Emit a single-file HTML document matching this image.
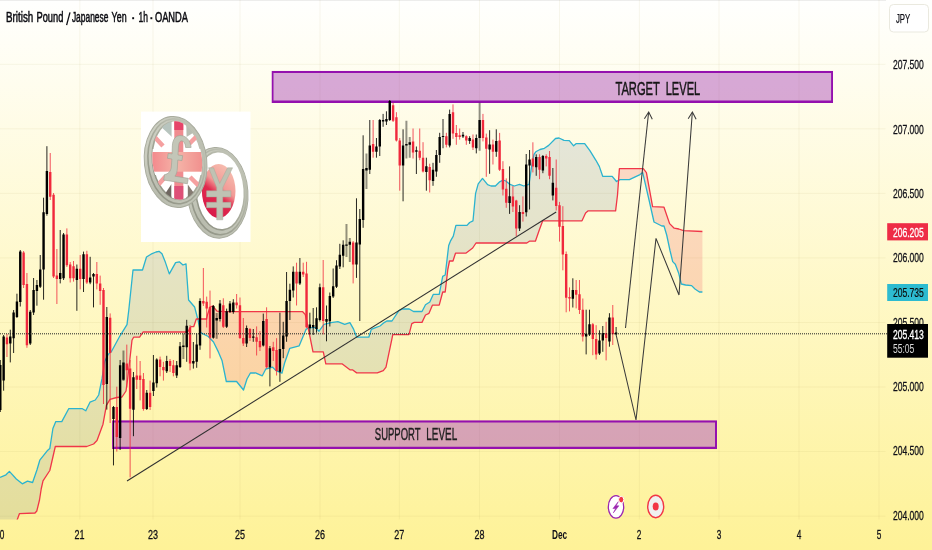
<!DOCTYPE html>
<html><head><meta charset="utf-8"><title>GBPJPY</title>
<style>html,body{margin:0;padding:0;background:#fff;}body{width:932px;height:550px;overflow:hidden;font-family:"Liberation Sans",sans-serif;}</style>
</head><body>
<svg width="932" height="550" viewBox="0 0 932 550" style="display:block;will-change:transform;font-family:'Liberation Sans',sans-serif">
<defs>
<linearGradient id="bg" x1="0" y1="0" x2="0" y2="1"><stop offset="0" stop-color="#FFFFFE"/><stop offset="1" stop-color="#FEF297"/></linearGradient>
<clipPath id="pane"><rect x="0" y="0" width="885.5" height="519.5"/></clipPath>
</defs>
<rect width="932" height="550" fill="url(#bg)"/>
<rect x="0" y="0" width="886" height="1" fill="rgba(0,0,0,0.07)"/>
<path d="M0 64.3H885.5M0 128.8H885.5M0 193.4H885.5M0 257.9H885.5M0 322.5H885.5M0 387.0H885.5M0 451.5H885.5M0 516.1H885.5M79.8 0V519.5M153.0 0V519.5M240.0 0V519.5M320.0 0V519.5M399.3 0V519.5M479.5 0V519.5M559.5 0V519.5M639.4 0V519.5M719.0 0V519.5M799.0 0V519.5M879.0 0V519.5" stroke="rgba(170,160,90,0.095)" stroke-width="1" fill="none"/>
<g clip-path="url(#pane)">
<path d="M0.0 477.4 L0.5 477.2 L1.0 477.0 L1.5 476.8 L2.0 476.5 L2.5 476.3 L3.0 476.1 L3.5 475.9 L4.0 475.7 L4.5 475.4 L5.0 475.2 L5.5 475.0 L6.0 474.8 L6.5 474.3 L7.0 473.8 L7.5 473.3 L8.0 472.8 L8.5 472.3 L9.0 471.8 L9.5 471.5 L10.0 472.1 L10.5 472.6 L11.0 473.2 L11.5 473.7 L12.0 474.3 L12.5 474.8 L13.0 475.4 L13.5 475.9 L14.0 476.5 L14.5 477.0 L15.0 477.6 L15.5 478.1 L16.0 478.7 L16.5 479.2 L17.0 479.6 L17.5 480.0 L18.0 480.4 L18.5 480.8 L19.0 481.2 L19.5 481.6 L20.0 482.0 L20.5 482.4 L21.0 482.8 L21.5 483.2 L22.0 483.6 L22.5 483.7 L23.0 483.4 L23.5 483.2 L24.0 482.9 L24.5 482.7 L25.0 482.4 L25.5 482.2 L26.0 481.9 L26.5 481.7 L27.0 481.4 L27.5 481.2 L28.0 481.3 L28.5 481.5 L29.0 481.6 L29.5 481.7 L30.0 481.8 L30.5 482.0 L31.0 482.1 L31.5 482.2 L32.0 482.3 L32.5 482.5 L33.0 481.3 L33.5 479.9 L34.0 478.4 L34.5 477.0 L35.0 475.5 L35.5 474.1 L36.0 472.6 L36.5 471.2 L37.0 469.7 L37.5 468.0 L38.0 466.3 L38.5 464.6 L39.0 462.9 L39.5 461.2 L40.0 459.9 L40.5 459.3 L41.0 458.7 L41.5 458.0 L42.0 457.4 L42.5 456.8 L43.0 456.1 L43.5 455.5 L44.0 454.9 L44.5 454.2 L45.0 453.6 L45.5 453.0 L46.0 452.3 L46.5 451.7 L47.0 451.1 L47.5 450.5 L48.0 450.1 L48.5 449.7 L49.0 449.3 L49.5 448.9 L50.0 447.3 L50.5 444.1 L51.0 440.8 L51.5 437.6 L52.0 434.3 L52.5 431.1 L53.0 428.3 L53.5 427.1 L54.0 425.9 L54.5 424.7 L55.0 423.5 L55.5 422.3 L56.0 421.6 L56.5 421.6 L57.0 421.6 L57.5 421.6 L58.0 421.6 L58.5 421.6 L59.0 421.6 L59.5 421.6 L60.0 421.6 L60.5 421.6 L61.0 421.6 L61.5 421.6 L62.0 421.2 L62.5 420.3 L63.0 419.4 L63.5 418.4 L64.0 417.5 L64.5 416.6 L65.0 415.6 L65.5 414.7 L66.0 413.7 L66.5 412.8 L67.0 411.9 L67.5 410.9 L68.0 410.0 L68.5 409.1 L69.0 408.7 L69.5 408.7 L70.0 408.7 L70.5 408.7 L71.0 408.7 L71.5 408.7 L72.0 408.7 L72.5 408.7 L73.0 408.7 L73.5 408.7 L74.0 408.7 L74.5 408.7 L75.0 408.7 L75.5 408.7 L76.0 408.7 L76.5 408.7 L77.0 408.7 L77.5 408.7 L78.0 408.7 L78.5 408.7 L79.0 408.7 L79.5 408.7 L80.0 408.7 L80.5 408.7 L81.0 408.7 L81.5 408.7 L82.0 408.7 L82.5 408.8 L83.0 409.1 L83.5 409.4 L84.0 409.7 L84.5 410.0 L85.0 410.3 L85.5 410.6 L86.0 410.4 L86.5 409.4 L87.0 408.3 L87.5 407.3 L88.0 406.3 L88.5 405.3 L89.0 404.2 L89.5 403.2 L90.0 402.2 L90.5 402.0 L91.0 401.8 L91.5 401.6 L92.0 401.4 L92.5 401.2 L93.0 401.0 L93.5 400.7 L94.0 400.5 L94.5 400.3 L95.0 400.1 L95.5 399.7 L96.0 399.0 L96.5 398.2 L97.0 397.5 L97.5 396.8 L98.0 396.0 L98.5 395.3 L99.0 393.5 L99.5 391.0 L100.0 388.6 L100.5 386.1 L101.0 383.6 L101.5 381.2 L102.0 378.7 L102.5 375.5 L103.0 372.3 L103.5 369.1 L104.0 366.0 L104.5 362.8 L105.0 360.9 L105.5 359.8 L106.0 358.8 L106.5 357.7 L107.0 356.7 L107.5 355.6 L108.0 354.6 L108.5 354.1 L109.0 353.7 L109.5 353.2 L110.0 352.7 L110.5 352.2 L111.0 351.8 L111.5 351.3 L112.0 350.5 L112.5 349.5 L113.0 348.6 L113.5 347.7 L114.0 346.8 L114.5 345.9 L115.0 345.0 L115.5 344.1 L116.0 343.1 L116.5 342.2 L117.0 341.3 L117.5 340.4 L118.0 339.5 L118.5 338.6 L119.0 337.6 L119.5 336.7 L120.0 335.8 L120.5 335.0 L121.0 334.2 L121.5 333.4 L122.0 332.6 L122.5 331.8 L123.0 331.0 L123.5 330.2 L124.0 329.4 L124.5 328.6 L125.0 327.8 L125.5 327.0 L126.0 326.2 L126.5 325.4 L127.0 324.6 L127.5 320.5 L128.0 316.5 L128.5 312.4 L129.0 308.1 L129.5 303.3 L130.0 298.6 L130.5 293.8 L131.0 289.0 L131.5 284.3 L132.0 279.5 L132.5 274.8 L133.0 270.0 L133.5 270.0 L134.0 270.0 L134.5 270.0 L135.0 270.0 L135.5 270.0 L136.0 270.0 L136.5 270.0 L137.0 270.0 L137.5 270.0 L138.0 270.0 L138.5 270.0 L139.0 270.0 L139.5 270.0 L140.0 270.0 L140.5 270.0 L141.0 270.0 L141.5 270.0 L142.0 270.0 L142.5 270.0 L143.0 268.4 L143.5 266.8 L144.0 265.1 L144.5 263.5 L145.0 261.9 L145.5 260.2 L146.0 258.6 L146.5 257.0 L147.0 256.7 L147.5 256.4 L148.0 256.1 L148.5 255.8 L149.0 255.4 L149.5 255.1 L150.0 254.8 L150.5 254.5 L151.0 254.2 L151.5 254.0 L152.0 253.8 L152.5 253.5 L153.0 253.3 L153.5 253.1 L154.0 252.9 L154.5 252.7 L155.0 252.4 L155.5 252.2 L156.0 252.0 L156.5 251.9 L157.0 251.8 L157.5 251.7 L158.0 251.5 L158.5 251.4 L159.0 251.3 L159.5 251.7 L160.0 252.1 L160.5 252.6 L161.0 253.0 L161.5 253.4 L162.0 253.8 L162.5 255.1 L163.0 256.3 L163.5 257.6 L164.0 258.8 L164.5 260.1 L165.0 261.3 L165.5 262.6 L166.0 264.1 L166.5 265.6 L167.0 267.1 L167.5 268.5 L168.0 270.0 L168.5 271.5 L169.0 273.0 L169.5 273.5 L170.0 272.6 L170.5 271.7 L171.0 270.9 L171.5 270.0 L172.0 269.1 L172.5 268.2 L173.0 267.3 L173.5 266.4 L174.0 265.5 L174.5 264.6 L175.0 263.7 L175.5 262.8 L176.0 262.5 L176.5 262.4 L177.0 262.3 L177.5 262.2 L178.0 262.1 L178.5 262.0 L179.0 261.9 L179.5 262.0 L180.0 262.4 L180.5 262.8 L181.0 263.3 L181.5 263.7 L182.0 264.1 L182.5 264.6 L183.0 265.0 L183.5 264.8 L184.0 264.6 L184.5 264.4 L185.0 264.2 L185.5 264.0 L186.0 263.8 L186.5 270.8 L187.0 277.7 L187.5 284.7 L188.0 291.6 L188.5 298.6 L189.0 300.5 L189.5 301.1 L190.0 301.6 L190.5 302.2 L191.0 302.8 L191.5 303.4 L192.0 304.0 L192.5 304.6 L193.0 305.1 L193.5 305.7 L194.0 306.3 L194.5 306.9 L195.0 308.5 L195.5 310.4 L196.0 312.3 L196.5 314.2 L197.0 316.0 L197.5 317.9 L198.0 319.8 L198.0 319.0 L197.5 319.0 L197.0 319.0 L196.5 319.0 L196.0 319.9 L195.5 321.4 L195.0 322.9 L194.5 324.3 L194.0 325.8 L193.5 326.7 L193.0 326.7 L192.5 326.7 L192.0 326.7 L191.5 326.7 L191.0 326.7 L190.5 327.5 L190.0 328.3 L189.5 329.1 L189.0 329.9 L188.5 330.7 L188.0 331.5 L187.5 332.0 L187.0 332.0 L186.5 332.0 L186.0 332.0 L185.5 332.0 L185.0 332.0 L184.5 332.0 L184.0 332.0 L183.5 332.0 L183.0 332.0 L182.5 332.0 L182.0 332.0 L181.5 332.0 L181.0 332.0 L180.5 332.0 L180.0 332.0 L179.5 332.0 L179.0 332.0 L178.5 332.0 L178.0 332.0 L177.5 332.0 L177.0 332.0 L176.5 332.0 L176.0 332.0 L175.5 332.0 L175.0 332.0 L174.5 332.0 L174.0 332.0 L173.5 332.0 L173.0 332.0 L172.5 332.0 L172.0 332.0 L171.5 332.0 L171.0 332.0 L170.5 332.0 L170.0 332.0 L169.5 332.0 L169.0 332.0 L168.5 332.0 L168.0 332.0 L167.5 332.0 L167.0 332.0 L166.5 332.0 L166.0 332.0 L165.5 332.0 L165.0 332.0 L164.5 332.0 L164.0 332.0 L163.5 332.0 L163.0 332.0 L162.5 332.0 L162.0 332.0 L161.5 332.0 L161.0 332.0 L160.5 332.0 L160.0 332.0 L159.5 332.0 L159.0 332.0 L158.5 332.0 L158.0 332.0 L157.5 332.0 L157.0 332.0 L156.5 332.0 L156.0 332.0 L155.5 332.0 L155.0 332.0 L154.5 332.0 L154.0 332.0 L153.5 332.0 L153.0 332.0 L152.5 332.0 L152.0 332.0 L151.5 332.0 L151.0 332.0 L150.5 332.0 L150.0 332.0 L149.5 332.0 L149.0 332.0 L148.5 332.0 L148.0 332.0 L147.5 332.0 L147.0 332.0 L146.5 332.0 L146.0 332.0 L145.5 332.0 L145.0 332.0 L144.5 332.0 L144.0 332.0 L143.5 332.0 L143.0 332.0 L142.5 332.8 L142.0 333.5 L141.5 334.3 L141.0 335.1 L140.5 335.8 L140.0 336.6 L139.5 337.2 L139.0 337.2 L138.5 337.2 L138.0 337.2 L137.5 337.2 L137.0 337.2 L136.5 337.2 L136.0 337.2 L135.5 337.2 L135.0 337.2 L134.5 337.2 L134.0 337.2 L133.5 337.4 L133.0 338.4 L132.5 339.3 L132.0 340.3 L131.5 344.7 L131.0 349.2 L130.5 353.6 L130.0 358.1 L129.5 362.5 L129.0 366.9 L128.5 371.3 L128.0 375.6 L127.5 380.0 L127.0 383.7 L126.5 387.3 L126.0 391.0 L125.5 391.8 L125.0 392.5 L124.5 393.2 L124.0 394.0 L123.5 394.8 L123.0 395.5 L122.5 396.2 L122.0 397.0 L121.5 397.0 L121.0 397.1 L120.5 397.1 L120.0 397.2 L119.5 397.2 L119.0 397.3 L118.5 397.3 L118.0 397.4 L117.5 397.4 L117.0 397.5 L116.5 397.6 L116.0 397.7 L115.5 397.8 L115.0 398.0 L114.5 398.1 L114.0 398.2 L113.5 398.4 L113.0 398.5 L112.5 398.6 L112.0 398.8 L111.5 398.9 L111.0 399.0 L110.5 399.2 L110.0 399.3 L109.5 400.1 L109.0 401.0 L108.5 401.8 L108.0 402.6 L107.5 403.5 L107.0 404.3 L106.5 405.1 L106.0 407.5 L105.5 410.3 L105.0 413.1 L104.5 415.9 L104.0 418.6 L103.5 421.4 L103.0 424.2 L102.5 425.6 L102.0 426.9 L101.5 428.3 L101.0 429.6 L100.5 431.0 L100.0 432.4 L99.5 433.7 L99.0 435.1 L98.5 436.4 L98.0 437.8 L97.5 439.1 L97.0 440.5 L96.5 441.0 L96.0 441.5 L95.5 442.0 L95.0 442.6 L94.5 443.1 L94.0 443.6 L93.5 444.0 L93.0 444.2 L92.5 444.4 L92.0 444.6 L91.5 444.8 L91.0 444.9 L90.5 445.1 L90.0 445.3 L89.5 445.5 L89.0 445.7 L88.5 445.8 L88.0 446.0 L87.5 446.2 L87.0 446.4 L86.5 446.5 L86.0 446.5 L85.5 446.5 L85.0 446.5 L84.5 446.5 L84.0 446.5 L83.5 446.5 L83.0 446.5 L82.5 446.5 L82.0 446.5 L81.5 446.5 L81.0 446.5 L80.5 446.5 L80.0 446.5 L79.5 446.5 L79.0 446.5 L78.5 446.5 L78.0 446.5 L77.5 446.5 L77.0 446.5 L76.5 446.5 L76.0 446.5 L75.5 446.5 L75.0 446.5 L74.5 446.5 L74.0 446.5 L73.5 446.5 L73.0 446.5 L72.5 446.5 L72.0 446.5 L71.5 446.5 L71.0 446.5 L70.5 446.5 L70.0 446.5 L69.5 446.5 L69.0 446.5 L68.5 446.5 L68.0 446.5 L67.5 446.5 L67.0 446.5 L66.5 446.5 L66.0 446.5 L65.5 446.5 L65.0 446.5 L64.5 446.5 L64.0 446.5 L63.5 446.5 L63.0 446.5 L62.5 446.5 L62.0 446.5 L61.5 446.5 L61.0 446.5 L60.5 446.5 L60.0 446.5 L59.5 446.5 L59.0 446.5 L58.5 446.5 L58.0 446.5 L57.5 446.5 L57.0 446.5 L56.5 446.5 L56.0 446.5 L55.5 446.5 L55.0 447.8 L54.5 450.0 L54.0 452.2 L53.5 454.4 L53.0 456.5 L52.5 458.7 L52.0 460.9 L51.5 463.1 L51.0 465.3 L50.5 467.4 L50.0 469.6 L49.5 471.0 L49.0 471.7 L48.5 472.5 L48.0 473.2 L47.5 474.0 L47.0 474.7 L46.5 475.5 L46.0 476.3 L45.5 477.0 L45.0 477.8 L44.5 478.5 L44.0 479.3 L43.5 480.0 L43.0 480.8 L42.5 483.1 L42.0 485.4 L41.5 487.6 L41.0 490.3 L40.5 493.5 L40.0 496.8 L39.5 500.0 L39.0 502.0 L38.5 504.1 L38.0 506.1 L37.5 508.1 L37.0 510.2 L36.5 511.3 L36.0 511.9 L35.5 512.4 L35.0 513.0 L34.5 513.0 L34.0 513.0 L33.5 513.1 L33.0 513.1 L32.5 513.1 L32.0 513.1 L31.5 513.1 L31.0 513.2 L30.5 513.2 L30.0 513.2 L29.5 513.2 L29.0 513.2 L28.5 513.3 L28.0 513.3 L27.5 513.3 L27.0 513.3 L26.5 513.3 L26.0 513.3 L25.5 513.4 L25.0 513.4 L24.5 513.4 L24.0 513.4 L23.5 513.4 L23.0 513.5 L22.5 513.5 L22.0 513.5 L21.5 513.5 L21.0 513.5 L20.5 513.6 L20.0 513.6 L19.5 513.6 L19.0 514.9 L18.5 516.3 L18.0 517.6 L17.5 519.0 L17.0 520.5 L16.5 522.0 L16.0 523.6 L15.5 525.2 L15.0 526.8 L14.5 528.4 L14.0 530.0 L13.5 530.5 L13.0 531.1 L12.5 531.6 L12.0 532.1 L11.5 532.7 L11.0 533.2 L10.5 533.8 L10.0 534.3 L9.5 534.8 L9.0 535.4 L8.5 535.9 L8.0 536.4 L7.5 537.0 L7.0 537.5 L6.5 538.0 L6.0 538.6 L5.5 539.1 L5.0 539.6 L4.5 540.2 L4.0 540.7 L3.5 541.2 L3.0 541.8 L2.5 542.3 L2.0 542.9 L1.5 543.4 L1.0 543.9 L0.5 544.5 L0.0 545.0Z" fill="rgba(70,100,150,0.14)" stroke="none"/>
<path d="M198.0 319.8 L198.5 322.3 L199.0 324.8 L199.5 327.2 L200.0 329.7 L200.5 332.2 L201.0 332.9 L201.5 333.1 L202.0 333.4 L202.5 333.6 L203.0 333.9 L203.5 334.1 L204.0 334.4 L204.5 334.6 L205.0 334.9 L205.5 335.1 L206.0 335.4 L206.5 335.6 L207.0 335.9 L207.5 336.1 L208.0 336.4 L208.5 336.7 L209.0 337.2 L209.5 337.8 L210.0 338.3 L210.5 338.8 L211.0 339.4 L211.5 339.9 L212.0 340.4 L212.5 340.9 L213.0 341.5 L213.5 342.0 L214.0 343.0 L214.5 344.0 L215.0 345.1 L215.5 346.1 L216.0 347.1 L216.5 348.1 L217.0 349.1 L217.5 350.2 L218.0 351.2 L218.5 352.2 L219.0 353.3 L219.5 354.5 L220.0 355.7 L220.5 356.9 L221.0 358.0 L221.5 359.2 L222.0 360.4 L222.5 362.9 L223.0 365.3 L223.5 367.8 L224.0 370.2 L224.5 372.7 L225.0 375.1 L225.5 377.6 L226.0 380.0 L226.5 381.5 L227.0 381.5 L227.5 381.5 L228.0 381.5 L228.5 381.5 L229.0 381.5 L229.5 381.5 L230.0 381.5 L230.5 381.5 L231.0 381.5 L231.5 381.5 L232.0 381.5 L232.5 381.5 L233.0 381.5 L233.5 381.5 L234.0 381.5 L234.5 381.5 L235.0 381.5 L235.5 381.5 L236.0 381.5 L236.5 381.5 L237.0 382.0 L237.5 382.6 L238.0 383.2 L238.5 383.8 L239.0 384.5 L239.5 385.1 L240.0 385.7 L240.5 386.3 L241.0 386.9 L241.5 387.5 L242.0 388.2 L242.5 388.8 L243.0 389.4 L243.5 390.0 L244.0 388.4 L244.5 386.9 L245.0 385.3 L245.5 383.7 L246.0 382.1 L246.5 380.6 L247.0 379.0 L247.5 378.1 L248.0 377.2 L248.5 376.4 L249.0 375.5 L249.5 374.6 L250.0 373.7 L250.5 373.0 L251.0 373.0 L251.5 373.0 L252.0 373.0 L252.5 373.0 L253.0 372.9 L253.5 372.9 L254.0 372.9 L254.5 372.9 L255.0 372.9 L255.5 372.9 L256.0 373.1 L256.5 373.3 L257.0 373.5 L257.5 373.8 L258.0 374.0 L258.5 374.2 L259.0 374.4 L259.5 374.6 L260.0 374.8 L260.5 375.0 L261.0 375.2 L261.5 375.5 L262.0 375.7 L262.5 375.4 L263.0 374.4 L263.5 373.5 L264.0 372.5 L264.5 371.5 L265.0 370.6 L265.5 369.6 L266.0 368.9 L266.5 368.8 L267.0 368.7 L267.5 368.6 L268.0 368.4 L268.5 368.3 L269.0 368.2 L269.5 368.0 L270.0 367.9 L270.5 367.8 L271.0 367.6 L271.5 367.5 L272.0 367.4 L272.5 367.2 L273.0 367.6 L273.5 368.1 L274.0 368.6 L274.5 369.1 L275.0 369.6 L275.5 370.1 L276.0 370.6 L276.5 370.8 L277.0 371.0 L277.5 371.2 L278.0 371.5 L278.5 371.7 L279.0 371.9 L279.5 372.1 L280.0 372.3 L280.5 372.6 L281.0 372.8 L281.5 373.0 L282.0 373.2 L282.5 371.2 L283.0 369.3 L283.5 367.3 L284.0 365.4 L284.5 363.4 L285.0 361.9 L285.5 360.5 L286.0 359.0 L286.5 357.6 L287.0 356.2 L287.5 354.8 L288.0 353.4 L288.5 352.0 L289.0 350.6 L289.5 349.1 L290.0 348.2 L290.5 348.1 L291.0 348.0 L291.5 347.8 L292.0 347.7 L292.5 347.6 L293.0 347.4 L293.5 347.3 L294.0 347.2 L294.5 347.1 L295.0 346.9 L295.5 346.8 L296.0 346.7 L296.5 346.5 L297.0 346.4 L297.5 346.3 L298.0 346.1 L298.5 346.0 L299.0 345.9 L299.5 345.1 L300.0 343.9 L300.5 342.7 L301.0 341.5 L301.5 340.3 L302.0 339.0 L302.5 337.8 L303.0 336.6 L303.5 335.4 L304.0 334.2 L304.5 333.0 L305.0 331.8 L305.5 330.6 L306.0 329.4 L306.5 329.1 L307.0 328.8 L307.5 328.5 L308.0 328.1 L308.5 327.8 L308.5 329.5 L308.0 327.0 L307.5 324.7 L307.0 322.4 L306.5 320.1 L306.0 317.8 L305.5 315.5 L305.0 314.3 L304.5 313.7 L304.0 313.1 L303.5 312.6 L303.0 312.0 L302.5 311.7 L302.0 311.7 L301.5 311.7 L301.0 311.7 L300.5 311.7 L300.0 311.7 L299.5 311.7 L299.0 311.7 L298.5 311.7 L298.0 311.7 L297.5 311.7 L297.0 311.7 L296.5 311.7 L296.0 311.7 L295.5 311.7 L295.0 311.7 L294.5 311.7 L294.0 311.7 L293.5 311.7 L293.0 311.7 L292.5 311.7 L292.0 311.7 L291.5 311.7 L291.0 311.7 L290.5 311.7 L290.0 311.7 L289.5 311.7 L289.0 311.7 L288.5 311.7 L288.0 311.7 L287.5 311.7 L287.0 311.7 L286.5 311.7 L286.0 311.7 L285.5 311.7 L285.0 311.7 L284.5 311.7 L284.0 311.7 L283.5 311.7 L283.0 311.7 L282.5 311.7 L282.0 311.7 L281.5 311.7 L281.0 311.7 L280.5 311.7 L280.0 311.7 L279.5 311.7 L279.0 311.7 L278.5 311.7 L278.0 311.7 L277.5 311.7 L277.0 311.7 L276.5 311.7 L276.0 311.7 L275.5 311.7 L275.0 311.7 L274.5 311.7 L274.0 311.7 L273.5 311.7 L273.0 311.7 L272.5 311.7 L272.0 311.7 L271.5 311.7 L271.0 311.7 L270.5 311.7 L270.0 311.7 L269.5 311.7 L269.0 311.7 L268.5 311.7 L268.0 311.7 L267.5 311.7 L267.0 311.7 L266.5 311.7 L266.0 311.7 L265.5 311.7 L265.0 311.7 L264.5 311.7 L264.0 311.7 L263.5 311.7 L263.0 311.7 L262.5 311.7 L262.0 311.7 L261.5 311.7 L261.0 311.7 L260.5 311.7 L260.0 311.7 L259.5 311.7 L259.0 311.7 L258.5 311.7 L258.0 311.7 L257.5 311.7 L257.0 311.7 L256.5 311.7 L256.0 311.7 L255.5 311.7 L255.0 311.7 L254.5 311.7 L254.0 311.7 L253.5 311.7 L253.0 311.7 L252.5 311.7 L252.0 311.7 L251.5 311.7 L251.0 311.7 L250.5 311.7 L250.0 311.7 L249.5 311.7 L249.0 311.7 L248.5 311.7 L248.0 311.7 L247.5 311.7 L247.0 311.7 L246.5 311.7 L246.0 311.7 L245.5 311.7 L245.0 311.7 L244.5 311.7 L244.0 311.7 L243.5 311.7 L243.0 311.7 L242.5 311.7 L242.0 311.7 L241.5 311.7 L241.0 311.7 L240.5 311.7 L240.0 311.7 L239.5 311.7 L239.0 311.7 L238.5 311.7 L238.0 311.7 L237.5 311.7 L237.0 311.7 L236.5 311.7 L236.0 311.7 L235.5 311.7 L235.0 311.7 L234.5 311.7 L234.0 311.7 L233.5 311.7 L233.0 311.7 L232.5 311.7 L232.0 311.7 L231.5 311.7 L231.0 311.7 L230.5 311.7 L230.0 311.7 L229.5 311.7 L229.0 311.7 L228.5 311.7 L228.0 311.7 L227.5 311.7 L227.0 311.7 L226.5 311.7 L226.0 311.7 L225.5 311.7 L225.0 311.7 L224.5 311.7 L224.0 311.7 L223.5 311.6 L223.0 311.6 L222.5 311.6 L222.0 311.5 L221.5 311.5 L221.0 311.5 L220.5 311.4 L220.0 311.4 L219.5 311.4 L219.0 311.3 L218.5 311.3 L218.0 311.3 L217.5 311.2 L217.0 311.2 L216.5 310.6 L216.0 310.0 L215.5 309.4 L215.0 308.8 L214.5 308.2 L214.0 307.7 L213.5 307.1 L213.0 306.5 L212.5 306.0 L212.0 306.2 L211.5 306.4 L211.0 306.6 L210.5 306.8 L210.0 307.0 L209.5 308.5 L209.0 310.0 L208.5 311.6 L208.0 313.1 L207.5 314.6 L207.0 317.0 L206.5 319.0 L206.0 319.0 L205.5 319.0 L205.0 319.0 L204.5 319.0 L204.0 319.0 L203.5 319.0 L203.0 319.0 L202.5 319.0 L202.0 319.0 L201.5 319.0 L201.0 319.0 L200.5 319.0 L200.0 319.0 L199.5 319.0 L199.0 319.0 L198.5 319.0 L198.0 319.0Z" fill="rgba(240,70,85,0.19)" stroke="none"/>
<path d="M308.5 327.8 L309.0 327.7 L309.5 327.7 L310.0 327.7 L310.5 327.7 L311.0 327.7 L311.5 327.7 L312.0 327.7 L312.5 327.7 L313.0 327.7 L313.5 327.7 L314.0 327.7 L314.5 327.7 L315.0 327.7 L315.5 327.7 L316.0 328.2 L316.5 328.7 L317.0 329.2 L317.5 329.7 L318.0 330.2 L318.5 330.7 L319.0 331.2 L319.5 330.5 L320.0 329.8 L320.5 329.1 L321.0 328.4 L321.5 327.8 L322.0 327.1 L322.5 326.4 L323.0 325.7 L323.5 325.0 L324.0 324.3 L324.5 324.2 L325.0 324.1 L325.5 323.9 L326.0 323.8 L326.5 323.7 L327.0 323.6 L327.5 323.5 L328.0 323.3 L328.5 323.2 L329.0 323.1 L329.5 323.0 L330.0 322.8 L330.5 322.7 L331.0 322.6 L331.5 322.5 L332.0 322.5 L332.5 322.4 L333.0 322.3 L333.5 322.3 L334.0 322.2 L334.5 322.1 L335.0 322.1 L335.5 322.0 L336.0 321.9 L336.5 321.9 L337.0 321.8 L337.5 321.8 L338.0 321.7 L338.5 321.9 L339.0 322.1 L339.5 322.3 L340.0 322.5 L340.5 322.7 L341.0 322.9 L341.5 323.1 L342.0 323.3 L342.5 323.5 L343.0 323.7 L343.5 323.8 L344.0 324.0 L344.5 324.2 L345.0 324.2 L345.5 324.0 L346.0 323.9 L346.5 323.7 L347.0 323.5 L347.5 323.4 L348.0 323.2 L348.5 323.1 L349.0 322.9 L349.5 322.7 L350.0 322.8 L350.5 323.7 L351.0 324.5 L351.5 325.4 L352.0 326.3 L352.5 327.2 L353.0 328.1 L353.5 329.1 L354.0 330.4 L354.5 331.6 L355.0 332.9 L355.5 334.2 L356.0 335.4 L356.5 336.7 L357.0 337.2 L357.5 337.2 L358.0 337.2 L358.5 337.2 L359.0 337.2 L359.5 337.2 L360.0 337.2 L360.5 337.2 L361.0 337.2 L361.5 337.2 L362.0 337.2 L362.5 337.2 L363.0 337.2 L363.5 337.2 L364.0 337.2 L364.5 337.2 L365.0 337.2 L365.5 337.2 L366.0 337.2 L366.5 337.2 L367.0 337.2 L367.5 337.2 L368.0 337.2 L368.5 337.2 L369.0 336.6 L369.5 335.0 L370.0 333.5 L370.5 331.9 L371.0 330.3 L371.5 329.3 L372.0 329.1 L372.5 328.9 L373.0 328.7 L373.5 328.5 L374.0 328.3 L374.5 328.1 L375.0 327.9 L375.5 327.7 L376.0 327.5 L376.5 327.4 L377.0 327.2 L377.5 327.0 L378.0 326.8 L378.5 326.6 L379.0 326.4 L379.5 326.2 L380.0 326.0 L380.5 325.6 L381.0 325.2 L381.5 324.8 L382.0 324.4 L382.5 324.0 L383.0 323.6 L383.5 323.2 L384.0 322.8 L384.5 322.4 L385.0 322.1 L385.5 321.8 L386.0 321.5 L386.5 321.2 L387.0 321.0 L387.5 321.0 L388.0 321.0 L388.5 321.0 L389.0 321.0 L389.5 321.0 L390.0 321.0 L390.5 321.0 L391.0 321.0 L391.5 321.0 L392.0 321.0 L392.5 320.3 L393.0 319.5 L393.5 318.8 L394.0 318.0 L394.5 317.3 L395.0 316.5 L395.5 315.8 L396.0 315.0 L396.5 314.3 L397.0 313.5 L397.5 312.8 L398.0 312.0 L398.5 311.3 L399.0 310.6 L399.5 310.4 L400.0 310.1 L400.5 309.9 L401.0 309.6 L401.5 309.4 L402.0 309.1 L402.5 309.0 L403.0 309.0 L403.5 309.0 L404.0 309.0 L404.5 309.0 L405.0 309.0 L405.5 309.0 L406.0 309.0 L406.5 309.0 L407.0 309.0 L407.5 309.0 L408.0 309.0 L408.5 309.0 L409.0 309.0 L409.5 309.2 L410.0 309.5 L410.5 309.8 L411.0 310.0 L411.5 310.3 L412.0 310.6 L412.5 310.9 L413.0 311.2 L413.5 311.5 L414.0 311.5 L414.5 311.5 L415.0 311.5 L415.5 311.5 L416.0 311.5 L416.5 311.5 L417.0 311.5 L417.5 311.5 L418.0 311.5 L418.5 311.5 L419.0 311.5 L419.5 311.5 L420.0 311.5 L420.5 311.5 L421.0 311.5 L421.5 311.5 L422.0 311.5 L422.5 310.5 L423.0 309.6 L423.5 308.6 L424.0 307.6 L424.5 306.6 L425.0 305.7 L425.5 304.7 L426.0 304.4 L426.5 304.1 L427.0 303.8 L427.5 303.4 L428.0 303.1 L428.5 302.8 L429.0 302.5 L429.5 302.2 L430.0 301.6 L430.5 300.4 L431.0 299.3 L431.5 298.2 L432.0 297.1 L432.5 296.0 L433.0 294.8 L433.5 294.4 L434.0 294.4 L434.5 294.4 L435.0 294.4 L435.5 294.4 L436.0 294.4 L436.5 294.4 L437.0 294.4 L437.5 294.4 L438.0 294.4 L438.5 294.4 L439.0 294.4 L439.5 292.9 L440.0 290.3 L440.5 287.7 L441.0 285.1 L441.5 282.6 L442.0 280.0 L442.5 277.4 L443.0 276.2 L443.5 276.0 L444.0 275.7 L444.5 275.4 L445.0 275.1 L445.5 272.5 L446.0 268.3 L446.5 264.0 L447.0 259.8 L447.5 255.6 L448.0 251.4 L448.5 247.2 L449.0 244.7 L449.5 243.5 L450.0 242.2 L450.5 241.0 L451.0 240.2 L451.5 239.3 L452.0 238.4 L452.5 237.6 L453.0 236.7 L453.5 235.4 L454.0 233.3 L454.5 231.2 L455.0 229.1 L455.5 227.1 L456.0 225.4 L456.5 225.4 L457.0 225.4 L457.5 225.4 L458.0 225.4 L458.5 225.4 L459.0 225.4 L459.5 225.4 L460.0 225.4 L460.5 225.4 L461.0 225.4 L461.5 225.4 L462.0 225.4 L462.5 225.4 L463.0 225.4 L463.5 225.4 L464.0 225.4 L464.5 225.4 L465.0 225.4 L465.5 225.4 L466.0 225.4 L466.5 225.4 L467.0 225.4 L467.5 224.8 L468.0 224.3 L468.5 223.7 L469.0 223.2 L469.5 222.6 L470.0 222.3 L470.5 222.1 L471.0 221.8 L471.5 221.6 L472.0 221.3 L472.5 221.1 L473.0 220.8 L473.5 215.5 L474.0 210.2 L474.5 204.9 L475.0 199.6 L475.5 194.4 L476.0 191.9 L476.5 190.0 L477.0 188.2 L477.5 186.4 L478.0 184.6 L478.5 183.5 L479.0 182.9 L479.5 182.2 L480.0 181.6 L480.5 181.0 L481.0 180.3 L481.5 179.7 L482.0 179.0 L482.5 178.4 L483.0 179.0 L483.5 179.6 L484.0 180.3 L484.5 180.9 L485.0 181.5 L485.5 182.1 L486.0 182.7 L486.5 183.3 L487.0 184.0 L487.5 184.6 L488.0 184.9 L488.5 185.0 L489.0 185.2 L489.5 185.4 L490.0 185.6 L490.5 185.8 L491.0 186.0 L491.5 186.0 L492.0 186.0 L492.5 186.0 L493.0 186.0 L493.5 186.0 L494.0 186.0 L494.5 186.0 L495.0 186.0 L495.5 185.9 L496.0 185.4 L496.5 184.9 L497.0 184.4 L497.5 183.9 L498.0 183.5 L498.5 183.0 L499.0 182.5 L499.5 182.0 L500.0 181.6 L500.5 181.4 L501.0 181.1 L501.5 180.9 L502.0 180.6 L502.5 180.4 L503.0 180.1 L503.5 180.1 L504.0 180.3 L504.5 180.5 L505.0 180.7 L505.5 180.9 L506.0 181.2 L506.5 181.6 L507.0 182.0 L507.5 182.4 L508.0 182.8 L508.5 183.2 L509.0 183.6 L509.5 184.0 L510.0 184.4 L510.5 184.6 L511.0 184.8 L511.5 185.0 L512.0 185.1 L512.5 185.3 L513.0 185.5 L513.5 185.7 L514.0 185.9 L514.5 185.9 L515.0 185.8 L515.5 185.6 L516.0 185.5 L516.5 185.3 L517.0 185.2 L517.5 185.0 L518.0 184.9 L518.5 184.7 L519.0 184.6 L519.5 184.4 L520.0 184.6 L520.5 184.8 L521.0 185.0 L521.5 185.1 L522.0 185.3 L522.5 185.5 L523.0 185.7 L523.5 185.9 L524.0 185.9 L524.5 185.8 L525.0 185.6 L525.5 185.5 L526.0 185.3 L526.5 185.2 L527.0 185.0 L527.5 184.9 L528.0 184.7 L528.5 184.6 L529.0 184.4 L529.5 181.0 L530.0 177.5 L530.5 174.1 L531.0 170.6 L531.5 167.2 L532.0 164.6 L532.5 162.0 L533.0 159.5 L533.5 156.9 L534.0 154.3 L534.5 153.6 L535.0 152.9 L535.5 152.2 L536.0 151.7 L536.5 151.4 L537.0 151.1 L537.5 150.9 L538.0 150.6 L538.5 150.3 L539.0 150.0 L539.5 149.8 L540.0 149.5 L540.5 149.4 L541.0 149.2 L541.5 149.1 L542.0 149.0 L542.5 148.8 L543.0 148.7 L543.5 148.5 L544.0 148.4 L544.5 148.2 L545.0 147.9 L545.5 147.6 L546.0 147.2 L546.5 146.9 L547.0 146.5 L547.5 146.2 L548.0 145.9 L548.5 145.5 L549.0 145.1 L549.5 144.6 L550.0 144.1 L550.5 143.6 L551.0 143.1 L551.5 142.6 L552.0 142.1 L552.5 141.5 L553.0 141.0 L553.5 140.5 L554.0 140.0 L554.5 139.5 L555.0 139.0 L555.5 138.5 L556.0 138.4 L556.5 138.4 L557.0 138.3 L557.5 138.2 L558.0 138.1 L558.5 138.1 L559.0 138.0 L559.5 138.2 L560.0 138.5 L560.5 138.7 L561.0 138.9 L561.5 139.2 L562.0 139.4 L562.5 139.6 L563.0 139.8 L563.5 140.1 L564.0 140.3 L564.5 140.3 L565.0 140.4 L565.5 140.4 L566.0 140.4 L566.5 140.4 L567.0 140.5 L567.5 140.5 L568.0 140.5 L568.5 140.6 L569.0 140.6 L569.5 140.8 L570.0 141.4 L570.5 142.1 L571.0 142.7 L571.5 143.3 L572.0 143.9 L572.5 144.5 L573.0 145.1 L573.5 145.7 L574.0 145.5 L574.5 145.0 L575.0 144.6 L575.5 144.1 L576.0 143.7 L576.5 143.7 L577.0 143.7 L577.5 143.7 L578.0 143.7 L578.5 143.7 L579.0 143.7 L579.5 143.7 L580.0 143.7 L580.5 143.7 L581.0 143.7 L581.5 143.7 L582.0 143.7 L582.5 143.7 L583.0 143.7 L583.5 143.7 L584.0 143.7 L584.5 143.7 L585.0 144.1 L585.5 144.8 L586.0 145.4 L586.5 146.1 L587.0 146.8 L587.5 147.4 L588.0 148.1 L588.5 148.7 L589.0 149.4 L589.5 150.1 L590.0 150.8 L590.5 151.6 L591.0 152.4 L591.5 153.2 L592.0 154.0 L592.5 154.8 L593.0 155.6 L593.5 156.4 L594.0 157.2 L594.5 158.0 L595.0 158.8 L595.5 159.7 L596.0 160.5 L596.5 161.4 L597.0 162.3 L597.5 163.2 L598.0 164.1 L598.5 165.0 L599.0 165.9 L599.5 167.0 L600.0 168.4 L600.5 169.9 L601.0 171.4 L601.5 172.8 L602.0 174.3 L602.5 175.7 L603.0 176.3 L603.5 176.3 L604.0 176.3 L604.5 176.3 L605.0 176.3 L605.5 176.3 L606.0 176.3 L606.5 176.3 L607.0 176.3 L607.5 176.3 L608.0 176.3 L608.5 176.3 L609.0 176.3 L609.5 176.3 L610.0 176.3 L610.5 176.3 L611.0 176.3 L611.5 176.3 L612.0 176.3 L612.5 176.7 L613.0 177.3 L613.5 177.9 L614.0 178.5 L614.5 179.1 L615.0 179.7 L615.5 180.3 L616.0 180.9 L616.5 181.5 L617.0 181.2 L617.5 181.0 L618.0 180.7 L618.5 180.4 L619.0 180.1 L619.0 174.2 L618.5 181.1 L618.0 188.1 L617.5 195.0 L617.0 199.2 L616.5 203.3 L616.0 207.5 L615.5 210.8 L615.0 210.8 L614.5 210.8 L614.0 210.8 L613.5 210.8 L613.0 210.8 L612.5 210.8 L612.0 210.8 L611.5 210.8 L611.0 210.8 L610.5 210.8 L610.0 210.8 L609.5 210.8 L609.0 210.8 L608.5 210.8 L608.0 210.8 L607.5 210.8 L607.0 210.8 L606.5 210.8 L606.0 210.8 L605.5 210.8 L605.0 210.8 L604.5 210.8 L604.0 210.8 L603.5 210.8 L603.0 210.8 L602.5 210.8 L602.0 210.8 L601.5 210.8 L601.0 210.8 L600.5 210.8 L600.0 210.8 L599.5 210.8 L599.0 210.8 L598.5 210.8 L598.0 210.8 L597.5 210.8 L597.0 210.8 L596.5 210.8 L596.0 210.8 L595.5 210.8 L595.0 210.8 L594.5 210.8 L594.0 210.8 L593.5 210.8 L593.0 210.8 L592.5 210.8 L592.0 210.8 L591.5 210.8 L591.0 210.8 L590.5 210.8 L590.0 210.8 L589.5 210.8 L589.0 210.8 L588.5 210.8 L588.0 211.0 L587.5 211.4 L587.0 211.8 L586.5 212.2 L586.0 212.7 L585.5 213.2 L585.0 214.3 L584.5 215.4 L584.0 216.5 L583.5 217.6 L583.0 218.6 L582.5 219.7 L582.0 220.8 L581.5 220.8 L581.0 220.8 L580.5 220.8 L580.0 220.8 L579.5 220.8 L579.0 220.8 L578.5 220.8 L578.0 220.8 L577.5 220.8 L577.0 220.8 L576.5 220.8 L576.0 220.8 L575.5 220.8 L575.0 220.8 L574.5 220.8 L574.0 220.8 L573.5 220.8 L573.0 220.8 L572.5 220.8 L572.0 220.8 L571.5 220.8 L571.0 220.8 L570.5 220.8 L570.0 220.8 L569.5 220.8 L569.0 220.8 L568.5 220.8 L568.0 220.8 L567.5 220.8 L567.0 220.8 L566.5 220.8 L566.0 220.8 L565.5 220.8 L565.0 220.8 L564.5 220.8 L564.0 220.8 L563.5 220.8 L563.0 220.8 L562.5 220.8 L562.0 220.8 L561.5 220.8 L561.0 220.8 L560.5 220.8 L560.0 220.8 L559.5 220.8 L559.0 220.8 L558.5 220.8 L558.0 220.8 L557.5 220.8 L557.0 220.8 L556.5 220.8 L556.0 220.8 L555.5 220.8 L555.0 220.8 L554.5 220.8 L554.0 220.8 L553.5 220.8 L553.0 220.8 L552.5 220.8 L552.0 220.8 L551.5 220.8 L551.0 220.8 L550.5 220.8 L550.0 220.8 L549.5 220.8 L549.0 220.8 L548.5 220.8 L548.0 220.8 L547.5 220.8 L547.0 220.8 L546.5 220.8 L546.0 220.8 L545.5 220.8 L545.0 220.8 L544.5 220.8 L544.0 220.8 L543.5 220.8 L543.0 220.8 L542.5 221.3 L542.0 222.7 L541.5 224.0 L541.0 225.4 L540.5 226.7 L540.0 228.1 L539.5 229.4 L539.0 230.8 L538.5 232.2 L538.0 233.7 L537.5 235.1 L537.0 236.6 L536.5 238.0 L536.0 239.5 L535.5 240.9 L535.0 241.2 L534.5 241.2 L534.0 241.2 L533.5 241.2 L533.0 241.2 L532.5 241.2 L532.0 241.2 L531.5 241.2 L531.0 241.2 L530.5 241.2 L530.0 241.2 L529.5 241.2 L529.0 241.5 L528.5 241.8 L528.0 242.2 L527.5 242.5 L527.0 242.9 L526.5 243.0 L526.0 243.0 L525.5 243.0 L525.0 243.0 L524.5 243.0 L524.0 243.0 L523.5 243.0 L523.0 243.0 L522.5 243.0 L522.0 243.0 L521.5 243.0 L521.0 243.0 L520.5 243.0 L520.0 243.0 L519.5 243.0 L519.0 243.0 L518.5 243.0 L518.0 243.0 L517.5 243.0 L517.0 243.0 L516.5 243.0 L516.0 243.0 L515.5 243.0 L515.0 243.0 L514.5 243.0 L514.0 243.0 L513.5 243.0 L513.0 243.0 L512.5 243.0 L512.0 243.0 L511.5 243.0 L511.0 243.0 L510.5 243.0 L510.0 243.0 L509.5 243.0 L509.0 243.0 L508.5 243.0 L508.0 243.0 L507.5 243.0 L507.0 243.0 L506.5 243.0 L506.0 243.0 L505.5 243.0 L505.0 243.0 L504.5 243.0 L504.0 243.0 L503.5 243.0 L503.0 243.0 L502.5 243.0 L502.0 243.0 L501.5 243.0 L501.0 243.0 L500.5 243.0 L500.0 243.0 L499.5 243.0 L499.0 243.0 L498.5 243.0 L498.0 243.0 L497.5 243.0 L497.0 243.0 L496.5 243.0 L496.0 243.0 L495.5 243.0 L495.0 243.0 L494.5 243.0 L494.0 243.0 L493.5 243.0 L493.0 243.0 L492.5 243.0 L492.0 243.0 L491.5 243.0 L491.0 243.0 L490.5 243.0 L490.0 243.0 L489.5 243.0 L489.0 243.0 L488.5 243.0 L488.0 243.0 L487.5 243.0 L487.0 243.0 L486.5 243.0 L486.0 243.0 L485.5 243.0 L485.0 243.0 L484.5 243.0 L484.0 243.0 L483.5 243.0 L483.0 243.0 L482.5 243.0 L482.0 243.0 L481.5 243.0 L481.0 243.0 L480.5 243.0 L480.0 243.0 L479.5 243.0 L479.0 243.0 L478.5 243.0 L478.0 243.0 L477.5 243.0 L477.0 243.0 L476.5 243.0 L476.0 243.0 L475.5 243.8 L475.0 244.5 L474.5 245.3 L474.0 246.0 L473.5 246.8 L473.0 247.5 L472.5 248.2 L472.0 248.5 L471.5 248.9 L471.0 249.3 L470.5 249.7 L470.0 250.0 L469.5 250.4 L469.0 250.8 L468.5 251.2 L468.0 251.5 L467.5 251.9 L467.0 252.3 L466.5 252.7 L466.0 253.0 L465.5 253.2 L465.0 253.2 L464.5 253.2 L464.0 253.2 L463.5 253.2 L463.0 253.2 L462.5 253.2 L462.0 253.2 L461.5 253.2 L461.0 253.2 L460.5 253.2 L460.0 253.2 L459.5 253.2 L459.0 253.2 L458.5 253.2 L458.0 253.2 L457.5 253.2 L457.0 253.2 L456.5 253.2 L456.0 253.2 L455.5 253.2 L455.0 254.8 L454.5 256.3 L454.0 257.9 L453.5 259.4 L453.0 261.0 L452.5 261.0 L452.0 261.0 L451.5 261.0 L451.0 261.0 L450.5 261.0 L450.0 261.0 L449.5 261.0 L449.0 263.5 L448.5 266.0 L448.0 268.5 L447.5 272.1 L447.0 276.4 L446.5 280.8 L446.0 285.1 L445.5 289.4 L445.0 292.0 L444.5 292.0 L444.0 292.0 L443.5 292.0 L443.0 292.0 L442.5 292.8 L442.0 294.6 L441.5 296.5 L441.0 298.4 L440.5 300.3 L440.0 302.2 L439.5 304.1 L439.0 305.2 L438.5 305.2 L438.0 305.2 L437.5 305.2 L437.0 305.2 L436.5 305.2 L436.0 305.2 L435.5 305.2 L435.0 305.2 L434.5 305.2 L434.0 305.2 L433.5 305.2 L433.0 305.2 L432.5 305.2 L432.0 306.2 L431.5 307.3 L431.0 308.5 L430.5 309.7 L430.0 310.9 L429.5 312.1 L429.0 313.3 L428.5 313.5 L428.0 313.8 L427.5 314.0 L427.0 314.3 L426.5 314.5 L426.0 314.8 L425.5 315.0 L425.0 316.1 L424.5 317.1 L424.0 318.2 L423.5 319.2 L423.0 320.3 L422.5 321.3 L422.0 322.4 L421.5 322.4 L421.0 322.4 L420.5 322.4 L420.0 322.4 L419.5 322.4 L419.0 322.4 L418.5 322.4 L418.0 322.4 L417.5 322.4 L417.0 322.4 L416.5 322.4 L416.0 322.4 L415.5 322.4 L415.0 322.4 L414.5 322.4 L414.0 322.5 L413.5 322.8 L413.0 323.0 L412.5 323.3 L412.0 323.5 L411.5 324.8 L411.0 326.7 L410.5 328.7 L410.0 330.7 L409.5 332.6 L409.0 334.6 L408.5 334.6 L408.0 334.6 L407.5 334.6 L407.0 334.6 L406.5 334.6 L406.0 334.6 L405.5 334.6 L405.0 334.6 L404.5 334.6 L404.0 334.6 L403.5 334.6 L403.0 334.6 L402.5 334.6 L402.0 334.6 L401.5 334.6 L401.0 334.6 L400.5 334.6 L400.0 334.6 L399.5 334.6 L399.0 334.6 L398.5 334.6 L398.0 334.6 L397.5 334.6 L397.0 334.6 L396.5 334.6 L396.0 334.6 L395.5 334.6 L395.0 334.6 L394.5 334.6 L394.0 334.6 L393.5 334.6 L393.0 334.6 L392.5 336.0 L392.0 338.4 L391.5 340.8 L391.0 343.2 L390.5 345.6 L390.0 348.0 L389.5 350.4 L389.0 352.8 L388.5 355.2 L388.0 357.6 L387.5 360.0 L387.0 362.4 L386.5 364.8 L386.0 367.2 L385.5 367.8 L385.0 368.5 L384.5 369.1 L384.0 369.7 L383.5 370.3 L383.0 370.7 L382.5 370.9 L382.0 371.1 L381.5 371.3 L381.0 371.5 L380.5 371.7 L380.0 371.9 L379.5 372.1 L379.0 372.2 L378.5 372.4 L378.0 372.6 L377.5 372.8 L377.0 372.9 L376.5 372.9 L376.0 372.9 L375.5 372.9 L375.0 372.9 L374.5 372.9 L374.0 372.9 L373.5 372.9 L373.0 372.9 L372.5 372.9 L372.0 372.9 L371.5 372.9 L371.0 372.9 L370.5 372.9 L370.0 372.9 L369.5 372.9 L369.0 372.9 L368.5 372.9 L368.0 372.9 L367.5 372.9 L367.0 372.9 L366.5 372.9 L366.0 372.9 L365.5 372.9 L365.0 372.9 L364.5 372.9 L364.0 372.9 L363.5 372.9 L363.0 372.9 L362.5 372.9 L362.0 372.9 L361.5 372.9 L361.0 372.9 L360.5 372.9 L360.0 372.9 L359.5 372.9 L359.0 372.9 L358.5 372.9 L358.0 372.9 L357.5 372.9 L357.0 372.9 L356.5 372.8 L356.0 372.4 L355.5 372.0 L355.0 371.7 L354.5 371.3 L354.0 371.0 L353.5 370.6 L353.0 370.2 L352.5 369.9 L352.0 369.8 L351.5 369.8 L351.0 369.8 L350.5 369.8 L350.0 369.8 L349.5 369.5 L349.0 369.1 L348.5 368.7 L348.0 368.4 L347.5 368.0 L347.0 367.6 L346.5 367.2 L346.0 366.8 L345.5 366.5 L345.0 366.1 L344.5 365.7 L344.0 365.3 L343.5 364.9 L343.0 364.6 L342.5 364.2 L342.0 363.8 L341.5 363.8 L341.0 363.8 L340.5 363.8 L340.0 363.8 L339.5 363.8 L339.0 363.8 L338.5 363.8 L338.0 363.8 L337.5 363.8 L337.0 363.8 L336.5 363.8 L336.0 363.8 L335.5 363.8 L335.0 363.8 L334.5 363.8 L334.0 363.8 L333.5 363.8 L333.0 363.8 L332.5 363.8 L332.0 363.8 L331.5 363.8 L331.0 363.8 L330.5 363.8 L330.0 363.8 L329.5 363.8 L329.0 363.8 L328.5 363.8 L328.0 363.8 L327.5 363.8 L327.0 363.8 L326.5 363.8 L326.0 363.8 L325.5 362.4 L325.0 360.0 L324.5 357.6 L324.0 355.2 L323.5 352.8 L323.0 351.8 L322.5 351.8 L322.0 351.8 L321.5 351.8 L321.0 351.8 L320.5 351.8 L320.0 351.8 L319.5 351.8 L319.0 351.8 L318.5 351.8 L318.0 351.8 L317.5 351.8 L317.0 351.8 L316.5 351.8 L316.0 351.8 L315.5 351.8 L315.0 351.8 L314.5 351.8 L314.0 351.8 L313.5 351.8 L313.0 351.8 L312.5 349.3 L312.0 346.8 L311.5 344.4 L311.0 341.9 L310.5 339.4 L310.0 336.9 L309.5 334.4 L309.0 332.0 L308.5 329.5Z" fill="rgba(70,100,150,0.14)" stroke="none"/>
<path d="M619.0 180.1 L619.5 179.9 L620.0 179.6 L620.5 179.6 L621.0 179.6 L621.5 179.6 L622.0 179.6 L622.5 179.6 L623.0 179.6 L623.5 179.6 L624.0 179.6 L624.5 179.6 L625.0 179.6 L625.5 179.6 L626.0 179.6 L626.5 179.6 L627.0 179.6 L627.5 179.6 L628.0 179.6 L628.5 179.6 L629.0 179.6 L629.5 179.6 L630.0 179.3 L630.5 179.1 L631.0 178.8 L631.5 178.6 L632.0 178.4 L632.5 178.1 L633.0 177.9 L633.5 177.7 L634.0 177.4 L634.5 177.2 L635.0 177.0 L635.5 176.7 L636.0 176.5 L636.5 176.3 L637.0 176.0 L637.5 175.8 L638.0 175.5 L638.5 175.3 L639.0 175.1 L639.5 174.8 L640.0 174.6 L640.5 174.2 L641.0 173.9 L641.5 173.5 L642.0 173.1 L642.5 172.7 L643.0 173.9 L643.5 176.1 L644.0 178.2 L644.5 180.4 L645.0 182.5 L645.5 184.7 L646.0 186.9 L646.5 189.0 L647.0 191.2 L647.5 193.4 L648.0 195.5 L648.5 197.7 L649.0 199.8 L649.5 202.0 L650.0 204.2 L650.5 206.4 L651.0 208.7 L651.5 210.9 L652.0 213.1 L652.5 215.3 L653.0 217.6 L653.5 219.8 L654.0 222.0 L654.5 222.3 L655.0 222.5 L655.5 222.8 L656.0 223.0 L656.5 223.3 L657.0 223.5 L657.5 223.8 L658.0 224.1 L658.5 224.3 L659.0 224.6 L659.5 224.8 L660.0 225.1 L660.5 225.3 L661.0 225.6 L661.5 225.8 L662.0 226.0 L662.5 226.0 L663.0 226.0 L663.5 226.0 L664.0 226.0 L664.5 227.7 L665.0 229.3 L665.5 231.0 L666.0 232.7 L666.5 234.3 L667.0 236.4 L667.5 238.8 L668.0 241.1 L668.5 243.5 L669.0 245.8 L669.5 248.2 L670.0 250.5 L670.5 252.6 L671.0 254.6 L671.5 256.7 L672.0 258.7 L672.5 260.8 L673.0 261.9 L673.5 262.4 L674.0 262.9 L674.5 263.4 L675.0 263.9 L675.5 264.7 L676.0 266.1 L676.5 267.4 L677.0 268.8 L677.5 270.1 L678.0 271.5 L678.5 272.8 L679.0 274.4 L679.5 276.5 L680.0 278.6 L680.5 280.7 L681.0 282.8 L681.5 284.0 L682.0 284.2 L682.5 284.3 L683.0 284.4 L683.5 284.5 L684.0 284.6 L684.5 284.7 L685.0 284.9 L685.5 285.0 L686.0 285.0 L686.5 285.1 L687.0 285.1 L687.5 285.2 L688.0 285.2 L688.5 285.3 L689.0 285.3 L689.5 285.4 L690.0 285.4 L690.5 285.5 L691.0 285.5 L691.5 285.6 L692.0 286.0 L692.5 286.5 L693.0 287.0 L693.5 287.5 L694.0 288.0 L694.5 288.5 L695.0 289.0 L695.5 289.3 L696.0 289.7 L696.5 290.0 L697.0 290.4 L697.5 290.7 L698.0 291.0 L698.5 291.4 L699.0 291.7 L699.5 292.0 L700.0 292.0 L700.5 292.0 L701.0 292.0 L701.5 292.0 L702.0 292.0 L702.4 292.0 L702.4 231.5 L702.0 231.5 L701.5 231.5 L701.0 231.4 L700.5 231.4 L700.0 231.4 L699.5 231.4 L699.0 231.4 L698.5 231.3 L698.0 231.3 L697.5 231.3 L697.0 231.3 L696.5 231.3 L696.0 231.2 L695.5 231.2 L695.0 231.2 L694.5 231.2 L694.0 231.1 L693.5 231.1 L693.0 231.1 L692.5 231.1 L692.0 231.1 L691.5 231.0 L691.0 231.0 L690.5 231.0 L690.0 231.0 L689.5 231.0 L689.0 230.9 L688.5 230.9 L688.0 230.9 L687.5 230.9 L687.0 230.8 L686.5 230.8 L686.0 230.8 L685.5 230.8 L685.0 230.8 L684.5 230.7 L684.0 230.7 L683.5 230.7 L683.0 230.5 L682.5 230.3 L682.0 230.2 L681.5 230.0 L681.0 229.8 L680.5 229.6 L680.0 229.4 L679.5 229.3 L679.0 229.1 L678.5 228.9 L678.0 228.9 L677.5 228.8 L677.0 228.7 L676.5 228.6 L676.0 228.5 L675.5 228.4 L675.0 228.3 L674.5 228.3 L674.0 228.0 L673.5 227.5 L673.0 227.0 L672.5 226.5 L672.0 226.0 L671.5 225.5 L671.0 225.0 L670.5 224.5 L670.0 224.0 L669.5 223.3 L669.0 221.8 L668.5 220.4 L668.0 218.9 L667.5 217.4 L667.0 216.0 L666.5 214.5 L666.0 213.1 L665.5 211.6 L665.0 210.1 L664.5 208.7 L664.0 207.2 L663.5 207.2 L663.0 207.1 L662.5 207.1 L662.0 207.1 L661.5 207.1 L661.0 207.0 L660.5 207.0 L660.0 207.0 L659.5 207.0 L659.0 206.9 L658.5 206.9 L658.0 206.9 L657.5 206.9 L657.0 206.8 L656.5 206.8 L656.0 206.8 L655.5 206.8 L655.0 206.7 L654.5 206.7 L654.0 206.7 L653.5 206.6 L653.0 206.6 L652.5 206.1 L652.0 203.3 L651.5 200.6 L651.0 197.8 L650.5 195.1 L650.0 192.3 L649.5 189.6 L649.0 186.9 L648.5 184.1 L648.0 181.4 L647.5 178.6 L647.0 175.9 L646.5 173.1 L646.0 172.1 L645.5 171.4 L645.0 170.8 L644.5 170.1 L644.0 169.5 L643.5 168.9 L643.0 168.6 L642.5 168.6 L642.0 168.6 L641.5 168.6 L641.0 168.6 L640.5 168.6 L640.0 168.6 L639.5 168.6 L639.0 168.6 L638.5 168.6 L638.0 168.6 L637.5 168.6 L637.0 168.6 L636.5 168.6 L636.0 168.6 L635.5 168.6 L635.0 168.6 L634.5 168.6 L634.0 168.6 L633.5 168.6 L633.0 168.6 L632.5 168.6 L632.0 168.6 L631.5 168.6 L631.0 168.6 L630.5 168.6 L630.0 168.6 L629.5 168.6 L629.0 168.6 L628.5 168.6 L628.0 168.6 L627.5 168.6 L627.0 168.6 L626.5 168.6 L626.0 168.6 L625.5 168.6 L625.0 168.6 L624.5 168.6 L624.0 168.6 L623.5 168.6 L623.0 168.6 L622.5 168.6 L622.0 168.6 L621.5 168.6 L621.0 168.6 L620.5 168.6 L620.0 168.6 L619.5 168.6 L619.0 174.2Z" fill="rgba(240,70,85,0.19)" stroke="none"/>
<path d="M0.0 477.4 L6.0 474.8 L9.4 471.4 L16.3 479.0 L22.3 483.8 L27.5 481.2 L32.6 482.5 L37.0 469.7 L39.8 460.2 L47.2 450.8 L49.8 448.6 L52.9 428.5 L55.8 421.6 L61.8 421.6 L68.7 408.7 L82.4 408.7 L85.8 410.8 L90.0 402.2 L95.3 400.0 L98.7 395.0 L102.0 378.7 L104.7 361.5 L108.0 354.6 L111.6 351.2 L120.0 335.8 L127.0 324.6 L128.8 310.0 L133.0 270.0 L142.5 270.0 L146.5 257.0 L151.0 254.2 L156.0 252.0 L159.0 251.3 L162.0 253.8 L165.5 262.6 L169.3 273.9 L175.6 262.6 L179.3 261.8 L183.0 265.0 L186.0 263.8 L188.6 300.0 L194.6 307.0 L198.0 319.8 L200.6 332.7 L208.3 336.5 L213.5 342.0 L218.6 352.4 L222.0 360.4 L226.3 381.5 L236.6 381.5 L243.5 390.0 L247.0 379.0 L250.4 373.0 L255.5 372.9 L262.3 375.8 L265.8 369.0 L272.6 367.2 L276.0 370.6 L282.0 373.2 L284.6 363.0 L289.8 348.3 L299.2 345.8 L306.0 329.4 L308.7 327.7 L315.5 327.7 L319.0 331.2 L324.0 324.3 L331.0 322.6 L337.9 321.7 L344.7 324.3 L349.9 322.6 L353.3 328.6 L356.7 337.2 L368.8 337.2 L371.3 329.4 L375.6 327.7 L380.0 326.0 L384.2 322.6 L386.8 321.0 L392.0 321.0 L398.9 310.7 L402.3 309.0 L409.2 309.0 L413.5 311.5 L422.0 311.5 L425.5 304.7 L429.8 302.0 L433.2 294.4 L439.2 294.4 L442.7 276.4 L445.2 275.0 L448.7 245.5 L450.4 241.2 L453.3 236.2 L455.9 225.4 L467.0 225.4 L469.6 222.5 L473.0 220.8 L475.6 193.3 L478.2 183.9 L482.5 178.4 L487.6 184.7 L491.0 186.0 L495.4 186.0 L499.7 181.8 L503.2 180.0 L505.8 181.0 L510.0 184.4 L514.3 186.0 L519.5 184.4 L523.8 186.0 L529.0 184.4 L531.5 167.2 L534.0 154.3 L535.8 151.8 L540.0 149.5 L544.4 148.3 L548.7 145.4 L555.5 138.5 L559.0 138.0 L564.0 140.3 L569.3 140.6 L573.6 145.8 L576.0 143.7 L584.7 143.7 L589.9 150.6 L595.9 160.3 L599.3 166.4 L602.7 176.3 L612.2 176.3 L616.5 181.5 L620.0 179.6 L629.4 179.6 L640.0 174.6 L642.7 172.6 L649.5 202.0 L654.0 222.0 L661.8 226.0 L664.0 226.0 L666.7 235.0 L670.0 250.5 L672.7 261.6 L675.3 264.2 L678.8 273.6 L681.3 284.0 L685.6 285.0 L691.6 285.6 L695.0 289.0 L699.4 292.0 L702.4 292.0" fill="none" stroke="#2BB3CF" stroke-width="1.3" stroke-linejoin="round"/>
<path d="M0.0 545.0 L14.0 530.0 L17.3 519.5 L19.5 513.6 L35.0 513.0 L36.8 511.0 L39.5 500.0 L41.2 489.0 L43.0 480.8 L49.8 470.5 L55.3 446.5 L86.7 446.5 L93.6 444.0 L97.0 440.5 L103.0 424.2 L106.4 405.3 L110.0 399.3 L116.7 397.5 L122.0 397.0 L126.0 391.0 L127.5 380.0 L129.3 364.3 L132.0 340.3 L133.6 337.2 L139.6 337.2 L143.0 332.0 L187.7 332.0 L191.0 326.7 L193.7 326.7 L196.3 319.0 L206.6 319.0 L207.5 314.6 L210.0 307.0 L212.6 306.0 L217.0 311.2 L224.6 311.7 L302.7 311.7 L305.3 314.6 L308.0 327.0 L313.0 351.8 L323.3 351.8 L325.8 363.8 L342.0 363.8 L349.9 369.8 L352.4 369.8 L356.7 372.9 L377.3 372.9 L383.3 370.6 L386.0 367.2 L392.8 334.6 L409.0 334.6 L411.8 323.6 L414.3 322.4 L422.0 322.4 L425.5 315.0 L429.0 313.3 L432.4 305.2 L439.2 305.2 L442.7 292.0 L445.2 292.0 L447.8 269.5 L449.5 261.0 L453.0 261.0 L455.5 253.2 L465.8 253.2 L472.7 248.0 L476.0 243.0 L526.8 243.0 L529.4 241.2 L535.4 241.2 L539.2 230.2 L542.7 220.8 L582.0 220.8 L585.6 213.0 L588.2 210.8 L615.6 210.8 L617.5 195.0 L619.4 168.6 L643.3 168.6 L646.4 172.6 L652.6 206.6 L664.0 207.2 L669.6 223.6 L674.2 228.2 L678.8 229.0 L683.5 230.7 L702.4 231.5" fill="none" stroke="#F03648" stroke-width="1.3" stroke-linejoin="round"/>
<rect x="271.8" y="70.9" width="561.20" height="32.00" fill="rgba(156,39,176,0.40)"/>
<path d="M271.8 70.9H833.0V102.9H271.8Z M273.5 73.10000000000001V100.60000000000001H831.1V73.10000000000001Z" fill="#9410AE" fill-rule="evenodd"/>
<rect x="112.2" y="420.5" width="604.80" height="28.60" fill="rgba(156,39,195,0.40)"/>
<path d="M112.2 420.5H717.0V449.1H112.2Z M113.8 422.6V446.8H715.0V422.6Z" fill="#9410AE" fill-rule="evenodd"/>
<text x="615.4" y="95.1" font-size="18.9" textLength="44.5" lengthAdjust="spacingAndGlyphs" fill="#161616" stroke="#161616" stroke-width="0.5">TARGET</text>
<text x="665.7" y="95.1" font-size="18.9" textLength="34.5" lengthAdjust="spacingAndGlyphs" fill="#161616" stroke="#161616" stroke-width="0.5">LEVEL</text>
<text x="374.8" y="439.5" font-size="16.2" textLength="45.7" lengthAdjust="spacingAndGlyphs" fill="#202020" stroke="#202020" stroke-width="0.4">SUPPORT</text>
<text x="426.3" y="439.5" font-size="16.2" textLength="30.9" lengthAdjust="spacingAndGlyphs" fill="#202020" stroke="#202020" stroke-width="0.4">LEVEL</text>
<path d="M127 481 L556.2 212" stroke="#303030" stroke-width="1.05" fill="none"/>
<g stroke="#3a3a3a" stroke-width="1.05" fill="none" stroke-linejoin="miter">
<path d="M625.5 328 L648.6 112.5"/>
<path d="M644.4 118.8 L648.7 112 L652.3 119.2"/>
<path d="M616 334.3 L636 420 L656 238.4 L679 295 L692.3 112.5"/>
<path d="M688.2 118.8 L692.4 112 L696.1 119.2"/>
</g>
<path d="M0.30 360.0V412.0M3.63 335.0V390.7M10.29 329.7V362.4M13.61 310.0V353.0M16.94 293.7V318.0M20.27 250.0V306.5M30.26 310.0V345.0M33.59 278.0V315.0M36.92 280.0V305.7M40.24 255.0V288.0M43.57 197.7V299.7M46.90 146.2V215.7M60.22 230.0V283.4M63.55 233.0V280.0M76.86 264.5V310.8M83.52 251.6V292.0M90.17 256.8V284.2M93.50 273.0V307.4M106.82 307.0V409.6M113.48 406.0V465.4M120.13 360.0V450.0M133.45 372.0V436.2M146.76 390.0V410.0M153.42 355.0V396.0M156.75 358.3V387.5M166.74 355.8V373.0M176.72 361.0V378.0M180.05 342.0V368.0M186.71 319.8V361.8M193.36 342.0V368.6M196.69 333.4V367.8M200.02 298.3V349.8M213.34 305.0V338.7M219.99 300.0V321.5M226.65 308.6V328.0M229.98 301.0V313.0M233.31 299.2V313.8M246.62 325.5V347.0M253.28 329.0V341.8M263.27 313.6V346.5M269.92 346.0V386.4M279.91 312.7V381.8M283.24 321.8V358.2M286.57 272.0V341.8M289.90 283.7V320.0M293.23 266.4V297.5M299.88 258.0V285.0M309.87 312.7V334.5M313.20 308.0V335.0M316.53 307.3V332.7M319.86 283.6V321.5M326.51 305.5V341.3M329.84 292.5V326.5M333.17 268.5V298.0M336.50 260.2V288.0M339.83 243.8V269.0M343.16 240.3V267.3M356.47 198.3V277.9M359.80 209.0V321.0M363.13 135.3V227.8M369.79 120.0V174.0M376.44 138.0V157.7M379.77 119.0V156.0M383.10 113.9V126.8M386.43 111.3V125.0M389.76 100.0V121.0M403.07 129.3V201.3M416.39 146.5V174.0M426.37 157.7V190.7M433.03 162.8V185.8M436.36 150.0V176.8M439.69 132.8V162.8M449.67 109.6V147.4M462.99 132.0V138.0M469.65 136.2V143.9M476.30 134.5V153.4M489.62 130.2V173.8M496.28 129.3V156.8M509.59 166.4V213.9M519.58 205.2V231.0M526.23 154.0V216.5M529.56 150.0V209.5M536.22 154.3V175.8M542.88 155.0V173.2M552.86 168.0V200.4M572.84 278.3V307.5M586.15 309.7V354.4M589.48 309.7V336.0M599.47 330.3V355.0M602.79 326.0V351.8M609.45 313.2V346.7M616.11 327.0V335.0" stroke="#000" stroke-opacity="0.85" stroke-width="1" fill="none"/>
<path d="M123.46 350.6V381.0M183.38 333.4V359.0M216.67 313.0V338.7M346.48 224.0V257.1M349.81 238.0V262.0M366.46 153.4V189.0M406.40 120.7V158.5M409.73 137.0V157.7M443.02 119.0V148.2M479.63 102.7V150.8" stroke="#000" stroke-opacity="0.42" stroke-width="2" fill="none"/>
<path d="M6.96 334.0V357.0M23.60 251.0V288.0M26.93 273.0V347.8M50.23 153.0V200.0M53.56 193.0V278.0M56.89 249.0V304.0M66.87 228.4V267.0M70.20 262.0V282.5M73.53 261.0V281.6M80.19 255.0V289.4M86.85 250.8V284.0M96.83 262.0V289.4M100.16 275.6V304.8M103.49 288.0V404.0M110.15 313.4V423.0M116.80 386.7V451.6M126.79 344.6V387.5M130.12 360.0V477.4M136.78 355.8V389.0M140.11 361.0V400.4M143.43 373.0V410.7M150.09 380.6V410.0M160.08 356.6V376.3M163.41 361.8V380.6M170.06 359.0V372.0M173.39 360.0V376.3M190.04 325.0V370.3M203.35 268.0V306.0M206.68 296.6V327.5M210.01 290.6V358.4M223.32 298.3V328.0M236.64 294.0V308.6M239.97 297.5V339.0M243.30 318.0V346.0M249.95 328.0V341.0M256.61 326.4V355.5M259.94 331.0V351.0M266.60 307.3V368.5M273.25 341.8V361.0M276.58 338.2V375.5M296.55 262.7V305.5M303.21 262.7V277.0M306.54 261.8V328.0M323.18 260.0V334.5M353.14 241.0V283.4M373.11 120.0V157.7M393.09 102.7V122.0M396.42 112.2V141.5M399.74 138.0V190.7M413.06 128.5V158.5M419.72 128.5V160.2M423.04 142.2V172.5M429.70 163.7V192.5M446.35 132.8V147.4M453.00 104.4V138.8M456.33 125.0V144.8M459.66 128.5V139.6M466.32 135.3V144.8M472.98 134.5V150.0M482.96 113.9V141.4M486.29 133.6V176.8M492.95 139.6V164.5M499.61 132.9V171.0M502.93 161.2V195.5M506.26 178.4V207.8M512.92 186.0V212.0M516.25 199.8V236.2M522.91 196.4V221.6M532.89 142.3V172.4M539.55 154.3V179.2M546.21 154.3V166.4M549.54 151.0V179.2M556.19 159.5V210.5M559.52 201.9V241.6M562.85 206.2V270.3M566.18 251.5V312.3M569.51 287.4V311.4M576.17 280.0V308.4M579.49 280.0V314.0M582.82 298.5V341.5M592.81 323.0V355.2M596.14 325.2V359.5M606.12 321.8V360.4M612.78 305.0V345.0" stroke="#F0283C" stroke-opacity="0.8" stroke-width="1" fill="none"/>
<path d="M-0.90 365.0h2.4V410.0h-2.4ZM2.43 336.6h2.4V380.4h-2.4ZM9.09 336.6h2.4V343.5h-2.4ZM12.41 312.6h2.4V338.3h-2.4ZM15.74 301.4h2.4V316.9h-2.4ZM19.07 251.6h2.4V302.0h-2.4ZM29.06 311.7h2.4V343.5h-2.4ZM32.39 290.0h2.4V312.5h-2.4ZM35.72 285.0h2.4V291.0h-2.4ZM39.04 269.6h2.4V286.8h-2.4ZM42.37 212.3h2.4V269.6h-2.4ZM45.70 171.0h2.4V214.0h-2.4ZM59.02 273.0h2.4V279.0h-2.4ZM62.35 234.4h2.4V278.2h-2.4ZM75.66 268.8h2.4V280.0h-2.4ZM82.32 254.2h2.4V279.0h-2.4ZM88.97 277.4h2.4V282.5h-2.4ZM92.30 274.0h2.4V276.5h-2.4ZM105.62 316.9h2.4V384.0h-2.4ZM112.28 407.0h2.4V419.0h-2.4ZM118.93 365.2h2.4V438.0h-2.4ZM122.26 362.6h2.4V379.8h-2.4ZM132.25 377.2h2.4V409.7h-2.4ZM145.56 392.7h2.4V409.0h-2.4ZM152.22 382.4h2.4V391.0h-2.4ZM155.55 359.5h2.4V383.2h-2.4ZM165.54 361.0h2.4V371.2h-2.4ZM175.52 365.2h2.4V375.5h-2.4ZM178.85 346.3h2.4V367.0h-2.4ZM182.18 345.5h2.4V347.0h-2.4ZM185.51 325.8h2.4V347.3h-2.4ZM192.16 361.0h2.4V363.5h-2.4ZM195.49 344.6h2.4V361.8h-2.4ZM198.82 301.0h2.4V345.5h-2.4ZM212.14 306.0h2.4V337.8h-2.4ZM215.47 318.0h2.4V320.6h-2.4ZM218.79 303.5h2.4V319.0h-2.4ZM225.45 311.2h2.4V326.7h-2.4ZM228.78 303.5h2.4V312.0h-2.4ZM232.11 302.6h2.4V312.0h-2.4ZM245.42 328.0h2.4V343.6h-2.4ZM252.08 336.4h2.4V337.8h-2.4ZM262.07 321.0h2.4V345.5h-2.4ZM268.72 348.2h2.4V367.3h-2.4ZM278.71 349.0h2.4V371.8h-2.4ZM282.04 335.5h2.4V349.0h-2.4ZM285.37 301.0h2.4V336.4h-2.4ZM288.70 289.7h2.4V301.0h-2.4ZM292.03 271.8h2.4V290.6h-2.4ZM298.68 271.8h2.4V283.6h-2.4ZM308.67 324.5h2.4V328.2h-2.4ZM312.00 325.0h2.4V327.5h-2.4ZM315.33 318.2h2.4V329.0h-2.4ZM318.66 287.3h2.4V320.0h-2.4ZM325.31 319.0h2.4V321.8h-2.4ZM328.64 296.0h2.4V321.3h-2.4ZM331.97 286.3h2.4V296.5h-2.4ZM335.30 265.5h2.4V286.8h-2.4ZM338.63 254.8h2.4V266.4h-2.4ZM341.96 244.7h2.4V255.7h-2.4ZM345.28 244.5h2.4V245.8h-2.4ZM348.61 241.7h2.4V244.7h-2.4ZM355.27 242.5h2.4V264.6h-2.4ZM358.60 218.9h2.4V244.5h-2.4ZM361.93 169.0h2.4V220.0h-2.4ZM365.26 168.0h2.4V170.5h-2.4ZM368.59 145.6h2.4V169.7h-2.4ZM375.24 146.5h2.4V151.7h-2.4ZM378.57 120.0h2.4V146.5h-2.4ZM381.90 120.0h2.4V121.6h-2.4ZM385.23 119.0h2.4V121.6h-2.4ZM388.56 101.0h2.4V120.0h-2.4ZM401.87 145.6h2.4V165.4h-2.4ZM405.20 144.0h2.4V145.6h-2.4ZM408.53 142.2h2.4V144.8h-2.4ZM415.19 150.3h2.4V151.7h-2.4ZM425.17 166.2h2.4V172.0h-2.4ZM431.83 169.7h2.4V181.0h-2.4ZM435.16 155.0h2.4V171.4h-2.4ZM438.49 137.0h2.4V155.0h-2.4ZM441.82 135.9h2.4V137.0h-2.4ZM448.47 113.9h2.4V145.6h-2.4ZM461.79 134.8h2.4V136.5h-2.4ZM468.45 138.0h2.4V141.0h-2.4ZM475.10 138.0h2.4V148.2h-2.4ZM478.43 120.0h2.4V138.0h-2.4ZM488.42 144.5h2.4V149.6h-2.4ZM495.08 141.0h2.4V151.8h-2.4ZM508.39 196.2h2.4V203.0h-2.4ZM518.38 212.0h2.4V228.5h-2.4ZM525.03 164.6h2.4V212.2h-2.4ZM528.36 159.5h2.4V165.5h-2.4ZM535.02 157.0h2.4V167.2h-2.4ZM541.68 156.0h2.4V170.6h-2.4ZM551.66 182.7h2.4V195.5h-2.4ZM571.64 290.0h2.4V298.8h-2.4ZM584.95 333.8h2.4V336.4h-2.4ZM588.28 324.3h2.4V334.6h-2.4ZM598.27 340.6h2.4V353.5h-2.4ZM601.59 333.0h2.4V340.6h-2.4ZM608.25 317.5h2.4V341.5h-2.4ZM614.91 332.6h2.4V334.3h-2.4Z" fill="#000"/>
<path d="M5.76 337.5h2.4V344.3h-2.4ZM22.40 252.5h2.4V285.0h-2.4ZM25.73 284.0h2.4V345.2h-2.4ZM49.03 172.0h2.4V196.8h-2.4ZM52.36 194.7h2.4V276.5h-2.4ZM55.69 275.6h2.4V279.0h-2.4ZM65.67 234.4h2.4V265.3h-2.4ZM69.00 264.5h2.4V278.2h-2.4ZM72.33 266.2h2.4V278.2h-2.4ZM78.99 268.8h2.4V279.0h-2.4ZM85.65 254.2h2.4V282.5h-2.4ZM95.63 274.0h2.4V283.4h-2.4ZM98.96 283.4h2.4V291.0h-2.4ZM102.29 290.0h2.4V385.0h-2.4ZM108.95 317.7h2.4V353.0h-2.4ZM115.60 407.0h2.4V437.0h-2.4ZM125.59 363.5h2.4V370.3h-2.4ZM128.92 368.6h2.4V408.7h-2.4ZM135.58 375.5h2.4V379.8h-2.4ZM138.91 375.5h2.4V380.0h-2.4ZM142.23 379.0h2.4V409.0h-2.4ZM148.89 392.7h2.4V407.0h-2.4ZM158.88 359.5h2.4V367.0h-2.4ZM162.21 367.0h2.4V370.3h-2.4ZM168.86 361.0h2.4V366.0h-2.4ZM172.19 365.2h2.4V373.0h-2.4ZM188.84 327.5h2.4V363.5h-2.4ZM202.15 301.0h2.4V303.5h-2.4ZM205.48 301.8h2.4V308.6h-2.4ZM208.81 307.0h2.4V337.8h-2.4ZM222.12 305.2h2.4V326.7h-2.4ZM235.44 302.6h2.4V305.2h-2.4ZM238.77 305.2h2.4V338.0h-2.4ZM242.10 338.0h2.4V343.6h-2.4ZM248.75 329.0h2.4V338.0h-2.4ZM255.41 337.3h2.4V341.8h-2.4ZM258.74 341.0h2.4V347.3h-2.4ZM265.40 319.0h2.4V367.3h-2.4ZM272.05 347.3h2.4V351.0h-2.4ZM275.38 350.0h2.4V371.0h-2.4ZM295.35 271.8h2.4V283.6h-2.4ZM302.01 271.8h2.4V274.5h-2.4ZM305.34 273.6h2.4V327.3h-2.4ZM321.98 287.3h2.4V321.0h-2.4ZM351.94 242.5h2.4V264.6h-2.4ZM371.91 144.0h2.4V151.7h-2.4ZM391.89 105.3h2.4V120.8h-2.4ZM395.22 117.3h2.4V140.5h-2.4ZM398.54 140.5h2.4V165.4h-2.4ZM411.86 141.4h2.4V152.5h-2.4ZM418.52 150.8h2.4V157.7h-2.4ZM421.84 157.7h2.4V171.4h-2.4ZM428.50 167.0h2.4V180.3h-2.4ZM445.15 136.2h2.4V144.8h-2.4ZM451.80 112.2h2.4V133.6h-2.4ZM455.13 133.0h2.4V137.0h-2.4ZM458.46 135.3h2.4V137.0h-2.4ZM465.12 136.2h2.4V140.5h-2.4ZM471.78 139.6h2.4V147.4h-2.4ZM481.76 120.0h2.4V138.0h-2.4ZM485.09 137.6h2.4V148.7h-2.4ZM491.75 144.5h2.4V151.8h-2.4ZM498.41 140.6h2.4V169.8h-2.4ZM501.73 169.0h2.4V189.5h-2.4ZM505.06 188.7h2.4V202.7h-2.4ZM511.72 196.4h2.4V206.5h-2.4ZM515.05 200.5h2.4V228.5h-2.4ZM521.71 212.0h2.4V214.0h-2.4ZM531.69 158.6h2.4V166.4h-2.4ZM538.35 157.0h2.4V169.8h-2.4ZM545.01 156.0h2.4V158.6h-2.4ZM548.34 157.0h2.4V175.8h-2.4ZM554.99 187.8h2.4V206.0h-2.4ZM558.32 205.3h2.4V226.8h-2.4ZM561.65 225.9h2.4V254.4h-2.4ZM564.98 254.0h2.4V297.7h-2.4ZM568.31 297.1h2.4V298.5h-2.4ZM574.97 290.0h2.4V294.7h-2.4ZM578.29 294.2h2.4V310.0h-2.4ZM581.62 309.7h2.4V336.4h-2.4ZM591.61 324.3h2.4V339.0h-2.4ZM594.94 339.0h2.4V354.4h-2.4ZM604.92 333.3h2.4V338.0h-2.4ZM611.58 317.5h2.4V334.3h-2.4Z" fill="#F0283C"/>
</g>
<path d="M0 333.8H887.5" stroke="#222" stroke-width="1" stroke-dasharray="1 1" fill="none"/>
<g id="coins">
<rect x="141" y="111.6" width="109.5" height="130.4" fill="#fff"/>
<defs>
<clipPath id="c1in"><ellipse cx="177.4" cy="160.6" rx="24.8" ry="39.2" transform="rotate(-6 175.6 162)"/></clipPath>
<clipPath id="c2in"><ellipse cx="220.2" cy="190.9" rx="24.2" ry="39.2" transform="rotate(-4 218 192.5)"/></clipPath>
<linearGradient id="redg" x1="0.8" y1="0" x2="0.3" y2="1"><stop offset="0" stop-color="#F7C3B4"/><stop offset="0.42" stop-color="#F29A96"/><stop offset="0.6" stop-color="#E02A4E"/><stop offset="1" stop-color="#D81848"/></linearGradient>
<linearGradient id="ring" x1="0" y1="0" x2="1" y2="1"><stop offset="0" stop-color="#D6D8CC"/><stop offset="0.5" stop-color="#B9BCAE"/><stop offset="1" stop-color="#C6C9BC"/></linearGradient>
<linearGradient id="hb" x1="0" y1="0" x2="1" y2="0"><stop offset="0" stop-color="#F27F86"/><stop offset="0.5" stop-color="#F5B4A8"/><stop offset="1" stop-color="#F08888"/></linearGradient>
<linearGradient id="rs" x1="1" y1="0" x2="0" y2="1"><stop offset="0" stop-color="#C9CCBF"/><stop offset="0.55" stop-color="#A5A899"/><stop offset="1" stop-color="#8B8E80"/></linearGradient>
</defs>
<!-- coin 2 (yen) behind -->
<g transform="rotate(-4 218 192.5)">
<ellipse cx="217.6" cy="192.8" rx="30.3" ry="45.4" fill="url(#ring)" stroke="#A9AC9E" stroke-width="1"/>
<ellipse cx="218.6" cy="192" rx="27.8" ry="42.8" fill="none" stroke="url(#rs)" stroke-width="1.6"/>
<ellipse cx="220.2" cy="190.9" rx="24.2" ry="39.2" fill="#fff" stroke="url(#rs)" stroke-width="1.6"/>
</g>
<g clip-path="url(#c2in)">
<ellipse cx="218.7" cy="191" rx="16.8" ry="27" fill="url(#redg)"/>
</g>
<g fill="#BFC2B3" stroke="#A7AA9B" stroke-width="0.5">
<path d="M208.6 167.8 L213.6 167.8 L219.7 183.5 L227.5 167.8 L232.6 167.8 L222.8 187.5 L222.8 190.8 L230.9 190.8 L230.9 196.9 L222.8 196.9 L222.8 202.3 L230.9 202.3 L230.9 207.7 L222.8 207.7 L222.8 219.8 L216.7 219.8 L216.7 207.7 L206.6 207.7 L206.6 202.3 L216.7 202.3 L216.7 196.9 L206.6 196.9 L206.6 190.8 L216.7 190.8 L216.7 187.5 Z"/>
</g>
<!-- coin 1 (pound) front -->
<g transform="rotate(-6 175.6 162)">
<ellipse cx="175.6" cy="162" rx="31.2" ry="45.7" fill="url(#ring)" stroke="#A9AC9E" stroke-width="1"/>
<ellipse cx="176.4" cy="161.4" rx="28.2" ry="42.6" fill="none" stroke="url(#rs)" stroke-width="1.6"/>
<ellipse cx="177.4" cy="160.6" rx="24.8" ry="39.2" fill="#fff" stroke="url(#rs)" stroke-width="1.6"/>
</g>
<g clip-path="url(#c1in)">
 <path d="M158 124 L172 119 L172 137 Z" fill="#B7C4BE"/>
 <path d="M186 122 L196 131 L186.5 137 Z" fill="#B8BDB2"/>
 <path d="M163 197 L171.5 184 L171.5 201 Z" fill="#6E6660"/>
 <path d="M187.8 184.5 L196 196 L187.8 201 Z" fill="#857B72"/>
 <path d="M148 130 L163 146 M204 129 L189 144 M150 194 L166 176 M205 192 L190 177" stroke="#F5A0A0" stroke-width="4.5" fill="none"/>
 <rect x="171.6" y="116" width="14.6" height="94" fill="#fff"/>
 <rect x="146" y="149" width="62" height="26" fill="#fff"/>
 <rect x="174.3" y="116" width="9" height="94" fill="#F08C90"/>
 <rect x="174.3" y="118" width="9" height="12" fill="#E6446A"/>
 <rect x="174.3" y="186" width="9" height="18" fill="#DE5078"/>
 <rect x="146" y="152" width="62" height="19.7" fill="url(#hb)"/>
</g>
<g fill="#C3C6B8" stroke="#9FA294" stroke-width="0.6" transform="rotate(9 178 160)">
<path d="M189 145.5 C187 138.5 182.5 135.4 178 135.4 C171.5 135.4 169.5 141 170.2 147 L171.2 155 L167.3 155 L167.3 160 L171.8 160 L172.5 168 C172.8 172 170.5 175.5 167 176.5 L167 182 L191 182 L191 176.5 L177.5 176.5 C178.8 174 179 171 178.6 168 L177.8 160 L182 160 L182 155 L177.2 155 L176.4 147 C176 143 176.8 140.5 179 140.5 C181 140.5 182.6 142.5 183.6 146.5 Z"/>
</g>
</g>

<g>
<ellipse cx="616" cy="506.9" rx="7.7" ry="11.2" fill="#fff" stroke="#9C27B0" stroke-width="1.3"/>
<path d="M618.4 501.5 L612.9 508.5 L615.6 508.5 L613.3 512.9 L618.9 505.8 L616.2 505.8 Z" fill="#9C27B0" stroke="#9C27B0" stroke-width="0.5" stroke-linejoin="round"/>
<ellipse cx="621.2" cy="499.6" rx="2.6" ry="3.3" fill="#F23645" stroke="#fff" stroke-width="1"/>
<ellipse cx="655.7" cy="506.5" rx="8" ry="11.2" fill="#F0F0F0" stroke="#F23645" stroke-width="1.4"/>
<ellipse cx="655.7" cy="506.5" rx="3" ry="4" fill="#F23645"/>
</g>
<text x="6.0" y="22.3" font-size="13.8" textLength="27.3" lengthAdjust="spacingAndGlyphs" fill="#0c0c12" stroke="#0c0c12" stroke-width="0.5">British</text>
<text x="36.5" y="22.3" font-size="13.8" textLength="26.8" lengthAdjust="spacingAndGlyphs" fill="#0c0c12" stroke="#0c0c12" stroke-width="0.5">Pound</text>
<text x="71.9" y="22.3" font-size="13.8" textLength="36.5" lengthAdjust="spacingAndGlyphs" fill="#0c0c12" stroke="#0c0c12" stroke-width="0.5">Japanese</text>
<text x="111.6" y="22.3" font-size="13.8" textLength="15.0" lengthAdjust="spacingAndGlyphs" fill="#0c0c12" stroke="#0c0c12" stroke-width="0.5">Yen</text>
<text x="138.6" y="22.3" font-size="13.8" textLength="9.4" lengthAdjust="spacingAndGlyphs" fill="#0c0c12" stroke="#0c0c12" stroke-width="0.5">1h</text>
<text x="154.9" y="22.3" font-size="13.8" textLength="33.1" lengthAdjust="spacingAndGlyphs" fill="#0c0c12" stroke="#0c0c12" stroke-width="0.5">OANDA</text>
<path d="M66.6 25.2 L70 12.4" stroke="#0c0c12" stroke-width="1.3" fill="none"/>
<rect x="132.2" y="17.2" width="1.9" height="2" fill="#0c0c12"/><rect x="150.4" y="17.2" width="1.9" height="2" fill="#0c0c12"/>
<rect x="889.5" y="4.5" width="39" height="27.5" rx="4" ry="4" fill="#fff" stroke="#EAE9DF" stroke-width="1"/>
<text x="895.9" y="23.3" font-size="12.3" textLength="14.3" lengthAdjust="spacingAndGlyphs" fill="#101018" stroke="#101018" stroke-width="0.25">JPY</text>
<text x="892.9" y="69.1" font-size="13" textLength="31" lengthAdjust="spacingAndGlyphs" fill="#101018" stroke="#101018" stroke-width="0.3">207.500</text>
<text x="892.9" y="133.5" font-size="13" textLength="31" lengthAdjust="spacingAndGlyphs" fill="#101018" stroke="#101018" stroke-width="0.3">207.000</text>
<text x="892.9" y="197.9" font-size="13" textLength="31" lengthAdjust="spacingAndGlyphs" fill="#101018" stroke="#101018" stroke-width="0.3">206.500</text>
<text x="892.9" y="262.3" font-size="13" textLength="31" lengthAdjust="spacingAndGlyphs" fill="#101018" stroke="#101018" stroke-width="0.3">206.000</text>
<text x="892.9" y="326.7" font-size="13" textLength="31" lengthAdjust="spacingAndGlyphs" fill="#101018" stroke="#101018" stroke-width="0.3">205.500</text>
<text x="892.9" y="391.1" font-size="13" textLength="31" lengthAdjust="spacingAndGlyphs" fill="#101018" stroke="#101018" stroke-width="0.3">205.000</text>
<text x="892.9" y="455.4" font-size="13" textLength="31" lengthAdjust="spacingAndGlyphs" fill="#101018" stroke="#101018" stroke-width="0.3">204.500</text>
<text x="892.9" y="519.8" font-size="13" textLength="31" lengthAdjust="spacingAndGlyphs" fill="#101018" stroke="#101018" stroke-width="0.3">204.000</text>
<rect x="887.2" y="223.2" width="40.8" height="17.2" fill="#EE2C46"/>
<text x="892.9" y="236.9" font-size="13" textLength="31" lengthAdjust="spacingAndGlyphs" fill="#fff" stroke="#fff" stroke-width="0.3">206.205</text>
<rect x="887.2" y="284" width="40.8" height="17" fill="#2DBBD0"/>
<text x="892.9" y="297.2" font-size="13" textLength="31" lengthAdjust="spacingAndGlyphs" fill="#0d0d0d" stroke="#0d0d0d" stroke-width="0.2">205.735</text>
<rect x="887.2" y="324" width="40.8" height="33.7" fill="#000"/>
<text x="892.9" y="338.6" font-size="13" textLength="31" lengthAdjust="spacingAndGlyphs" fill="#fff" stroke="#fff" stroke-width="0.35">205.413</text>
<text x="892.9" y="352.8" font-size="12.5" textLength="21.5" lengthAdjust="spacingAndGlyphs" fill="#d8d8d8">55:05</text>
<text x="-0.3" y="539.3" font-size="12.5" textLength="4.6" lengthAdjust="spacingAndGlyphs" fill="#101018" stroke="#101018" stroke-width="0.3">0</text>
<text x="74.5" y="539.3" font-size="12.5" textLength="10.0" lengthAdjust="spacingAndGlyphs" fill="#101018" stroke="#101018" stroke-width="0.3">21</text>
<text x="148.0" y="539.3" font-size="12.5" textLength="10.0" lengthAdjust="spacingAndGlyphs" fill="#101018" stroke="#101018" stroke-width="0.3">23</text>
<text x="235.0" y="539.3" font-size="12.5" textLength="10.0" lengthAdjust="spacingAndGlyphs" fill="#101018" stroke="#101018" stroke-width="0.3">25</text>
<text x="315.0" y="539.3" font-size="12.5" textLength="10.0" lengthAdjust="spacingAndGlyphs" fill="#101018" stroke="#101018" stroke-width="0.3">26</text>
<text x="394.3" y="539.3" font-size="12.5" textLength="10.0" lengthAdjust="spacingAndGlyphs" fill="#101018" stroke="#101018" stroke-width="0.3">27</text>
<text x="474.5" y="539.3" font-size="12.5" textLength="10.0" lengthAdjust="spacingAndGlyphs" fill="#101018" stroke="#101018" stroke-width="0.3">28</text>
<text x="551.9" y="539.3" font-size="12.5" textLength="15.2" lengthAdjust="spacingAndGlyphs" fill="#101018" font-weight="bold">Dec</text>
<text x="636.7" y="539.3" font-size="12.5" textLength="4.6" lengthAdjust="spacingAndGlyphs" fill="#101018" stroke="#101018" stroke-width="0.3">2</text>
<text x="716.7" y="539.3" font-size="12.5" textLength="4.6" lengthAdjust="spacingAndGlyphs" fill="#101018" stroke="#101018" stroke-width="0.3">3</text>
<text x="796.7" y="539.3" font-size="12.5" textLength="4.6" lengthAdjust="spacingAndGlyphs" fill="#101018" stroke="#101018" stroke-width="0.3">4</text>
<text x="876.7" y="539.3" font-size="12.5" textLength="4.6" lengthAdjust="spacingAndGlyphs" fill="#101018" stroke="#101018" stroke-width="0.3">5</text>
</svg>
</body></html>
